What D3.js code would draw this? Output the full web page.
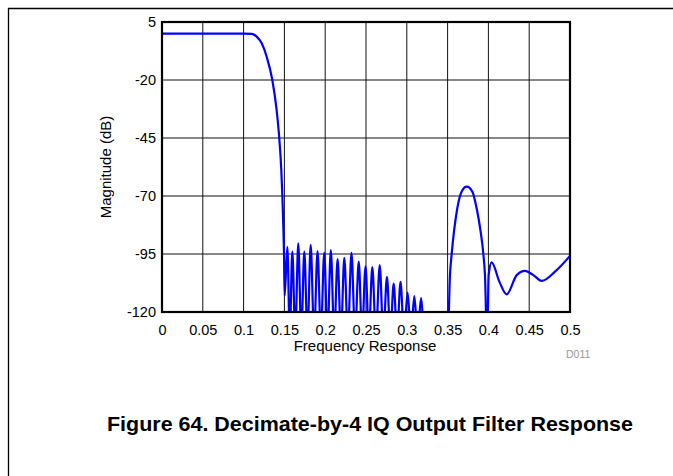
<!DOCTYPE html>
<html>
<head>
<meta charset="utf-8">
<script src="https://cdn.jsdelivr.net/npm/d3@7"></script>
<style>
  html, body { margin: 0; padding: 0; background: #fff; }
  svg { display: block; }
  text { font-family: "Liberation Sans", Arial, sans-serif; }
</style>
</head>
<body>
<svg id="chart" width="673" height="476"></svg>
<script>
// ---- Data ----
const xTicks = [0, 0.05, 0.1, 0.15, 0.2, 0.25, 0.3, 0.35, 0.4, 0.45, 0.5];
const xTickLabels = ["0", "0.05", "0.1", "0.15", "0.2", "0.25", "0.3", "0.35", "0.4", "0.45", "0.5"];
const yTicks = [5, -20, -45, -70, -95, -120];

// passband + transition band
const passFreq = [0, 0.05, 0.10, 0.1099, 0.116, 0.1222, 0.1283, 0.1352, 0.1405, 0.1437, 0.1462, 0.1475, 0.1487, 0.1495, 0.1503];
const passDb   = [0, 0, 0, -0.1, -1.3, -4.2, -10, -20, -33, -45, -58.8, -69.9, -83.2, -94.7, -113];

// stopband side lobes (peak, null, peak, null ...)
const stopFreq = [0.1536, 0.1566, 0.1597, 0.1633, 0.1670, 0.1707, 0.1744, 0.1783, 0.1822, 0.1864,
                  0.1906, 0.1947, 0.1988, 0.2028, 0.2069, 0.2110, 0.2152, 0.2193, 0.2234, 0.2278,
                  0.2322, 0.2366, 0.2411, 0.2452, 0.2494, 0.2535, 0.2577, 0.2622, 0.2668, 0.2712,
                  0.2757, 0.2798, 0.2839, 0.2881, 0.2923, 0.2966, 0.3010, 0.3051, 0.3092, 0.3133,
                  0.3175, 0.3215];
const stopDb   = [-91.9, -130, -94, -130, -90.4, -130, -94, -130, -91.1, -130,
                  -93.7, -130, -94.5, -130, -93.3, -130, -97.2, -130, -96.7, -130,
                  -94.5, -130, -98.3, -130, -100.3, -130, -100.6, -130, -99.8, -130,
                  -104.8, -130, -107.8, -130, -107, -130, -111.6, -130, -113.2, -130,
                  -113.9, -130];

// image lobe around 0.375
const imageFreq = [0.3500, 0.3529, 0.3550, 0.3578, 0.3619, 0.3673, 0.3734, 0.3803, 0.3856, 0.3905, 0.3938, 0.3958, 0.3985];
const imageDb   = [-135, -104.1, -95, -85.4, -75.3, -68.1, -66, -68.1, -75.3, -85.4, -95, -104.1, -135];

// tail up to Nyquist
const tailFreq = [0.4003, 0.4040, 0.4134, 0.4224, 0.4347, 0.4449, 0.4551, 0.4653, 0.4816, 0.5000];
const tailDb   = [-104.1, -98.6, -106.9, -112.4, -104.1, -102.3, -104.1, -106.6, -102.6, -95.8];

// ---- Layout ----
const svg = d3.select("#chart");
const pLeft = 162, pRight = 570, pTop = 22, pBottom = 312;

const x = d3.scaleLinear().domain([0, 0.5]).range([pLeft, pRight]);
const y = d3.scaleLinear().domain([-120, 5]).range([pBottom, pTop]);

// outer page frame
svg.append("line").attr("x1", 8.5).attr("x2", 8.5).attr("y1", 8).attr("y2", 476)
  .attr("stroke", "#000").attr("stroke-width", 1.3);
svg.append("line").attr("x1", 8).attr("x2", 673).attr("y1", 8.5).attr("y2", 8.5)
  .attr("stroke", "#000").attr("stroke-width", 1.3);

// grid
const grid = svg.append("g");
grid.selectAll("line.v").data(xTicks.slice(1, -1)).enter().append("line")
  .attr("x1", d => x(d)).attr("x2", d => x(d)).attr("y1", pTop).attr("y2", pBottom)
  .attr("stroke", "#111").attr("stroke-width", 1);
grid.selectAll("line.h").data(yTicks.slice(1, -1)).enter().append("line")
  .attr("x1", pLeft).attr("x2", pRight).attr("y1", d => y(d)).attr("y2", d => y(d))
  .attr("stroke", "#111").attr("stroke-width", 1);

// response curve
const pts = [];
const addSeries = (fs, ds) => fs.forEach((f, i) => pts.push([f, ds[i]]));
addSeries(passFreq, passDb);
addSeries(stopFreq, stopDb);
addSeries(imageFreq, imageDb);
addSeries(tailFreq, tailDb);

svg.append("clipPath").attr("id", "clip").append("rect")
  .attr("x", pLeft).attr("y", pTop - 2).attr("width", pRight - pLeft).attr("height", pBottom - pTop + 2);

const line = d3.line().x(d => x(d[0])).y(d => y(d[1])).curve(d3.curveMonotoneX);
svg.append("path").datum(pts)
  .attr("clip-path", "url(#clip)")
  .attr("d", line)
  .attr("fill", "none")
  .attr("stroke", "#0000ff")
  .attr("stroke-width", 2.2)
  .attr("stroke-linejoin", "round");

// plot frame
svg.append("rect").attr("x", pLeft).attr("y", pTop).attr("width", pRight - pLeft).attr("height", pBottom - pTop)
  .attr("fill", "none").attr("stroke", "#000").attr("stroke-width", 2.2);

// axes (labels only)
const xAxis = d3.axisBottom(x).tickValues(xTicks).tickFormat((d, i) => xTickLabels[i]).tickSize(0).tickPadding(13);
const gx = svg.append("g").attr("transform", `translate(0,${pBottom})`).call(xAxis);
gx.select(".domain").remove();
gx.selectAll("text").attr("font-size", 14.5).attr("fill", "#000")
  .style("font-family", "'Liberation Sans', Arial, sans-serif");

const yAxis = d3.axisLeft(y).tickValues(yTicks).tickFormat(d => String(d)).tickSize(0).tickPadding(6);
const gy = svg.append("g").attr("transform", `translate(${pLeft},0)`).call(yAxis);
gy.select(".domain").remove();
gy.selectAll("text").attr("font-size", 14.5).attr("fill", "#000")
  .style("font-family", "'Liberation Sans', Arial, sans-serif");

// axis titles
svg.append("text").attr("x", 365).attr("y", 351)
  .attr("text-anchor", "middle").attr("font-size", 15).text("Frequency Response");
svg.append("text").attr("transform", `translate(111,${(pTop + pBottom) / 2}) rotate(-90)`)
  .attr("text-anchor", "middle").attr("font-size", 15).text("Magnitude (dB)");

svg.append("text").attr("x", 566).attr("y", 358).attr("font-size", 10.5).attr("fill", "#999").text("D011");

// caption
svg.append("text").attr("x", 107).attr("y", 431).attr("font-size", 20.5).attr("font-weight", "bold")
  .attr("textLength", 526).attr("lengthAdjust", "spacingAndGlyphs")
  .text("Figure 64. Decimate-by-4 IQ Output Filter Response");
</script>
</body>
</html>
